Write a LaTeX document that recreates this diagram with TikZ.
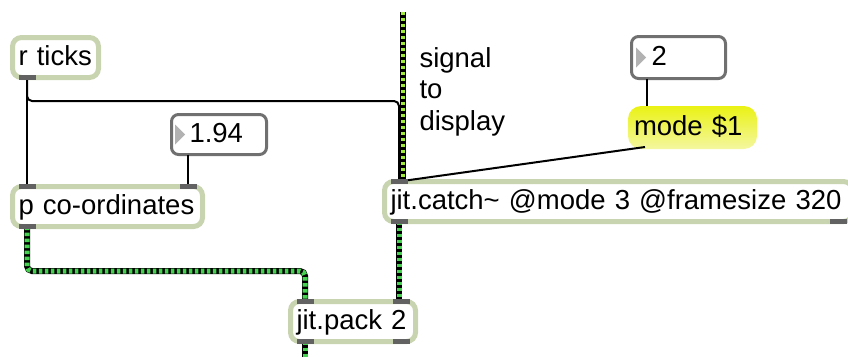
\documentclass[tikz,border=0pt]{standalone}
\usepackage{fontspec}
\setmainfont{Liberation Sans}
\usetikzlibrary{calc}

\definecolor{objedge}{RGB}{200,212,176}
\definecolor{portgray}{RGB}{98,98,98}
\definecolor{numedge}{RGB}{112,112,112}
\definecolor{trigray}{RGB}{178,178,178}
\definecolor{sigcol}{RGB}{160,235,60}
\definecolor{jitcol}{RGB}{70,210,80}
\definecolor{msgtop}{RGB}{234,242,20}
\definecolor{msgbot}{RGB}{244,247,160}

% dark inlet/outlet tab centred on a box edge
\newcommand\porttab[1]{\fill[portgray] ($(#1)+(-8.5,-2.5)$) rectangle ++(17,5);}

\begin{document}
\begin{tikzpicture}[x=1pt,y=-1pt,
  txt/.style={font=\fontsize{27.5}{31.5}\selectfont},
  box/.style={txt, anchor=north west, inner xsep=6pt, inner ysep=7pt,
    text height=21pt, text depth=5pt, align=left, outer sep=0pt},
  obj/.style={box, draw=objedge, line width=5pt, fill=white, rounded corners=9pt},
  num/.style={box, draw=numedge, line width=3pt, fill=white, rounded corners=7pt},
  msg/.style={box, rounded corners=13pt, top color=msgtop, bottom color=msgbot,
    text height=20pt, inner ysep=9pt},
  cord/.style={line width=2pt, black},
  sigcord/.style={line width=6pt, black,
    postaction={draw=sigcol, line width=4.5pt, dash pattern=on 3pt off 3pt}},
  jitcord/.style={line width=6pt, black, rounded corners=5pt,
    postaction={draw=jitcol, line width=5pt, dash pattern=on 3.5pt off 2.5pt}},
]
\useasboundingbox (0,0) rectangle (848,356);

% boxes
\node[obj, text width=74pt] (rticks) at (12.5,37.5) {r ticks};
\node[obj, text width=178pt] (pcoord) at (12.5,186.5) {p co-ordinates};
\node[obj, text width=456pt] (catch) at (384.5,181.5) {jit.catch\textasciitilde{} @mode 3 @framesize 320};
\node[obj, text width=113pt] (pack) at (290.5,301.5) {jit.pack 2};
\node[num, text width=83pt] (numA) at (171.5,114.5) {\hspace*{12pt}1.94};
\node[num, text width=82pt, inner ysep=8pt] (numB) at (631.5,36.5) {\hspace*{14pt}2};
\node[msg, text width=117pt] (mode) at (628,106) {mode \$1};
\node[txt, anchor=base west, align=left] (sigtext) at (416,130) {signal\\to\\display};

% number box arrows
\fill[trigray] ($(numA.west)+(3.5,-10)$) -- ++(10,10) -- ++(-10,10) -- cycle;
\fill[trigray] ($(numB.west)+(4.5,-10)$) -- ++(10,10) -- ++(-10,10) -- cycle;

% inlets and outlets
\coordinate (rticks-out) at ($(rticks.south west)+(14.5,0)$);
\coordinate (pc-in1) at ($(pcoord.north west)+(14.5,0)$);
\coordinate (pc-in2) at ($(pcoord.north east)+(-14.5,0)$);
\coordinate (pc-out) at ($(pcoord.south west)+(14.5,0)$);
\coordinate (catch-in) at ($(catch.north west)+(14.5,0)$);
\coordinate (catch-out) at ($(catch.south west)+(14.5,0)$);
\coordinate (catch-out2) at ($(catch.south east)+(-14.5,0)$);
\coordinate (pack-in1) at ($(pack.north west)+(14.5,0)$);
\coordinate (pack-in2) at ($(pack.north east)+(-14.5,0)$);
\coordinate (pack-out1) at ($(pack.south west)+(14.5,0)$);
\coordinate (pack-out2) at ($(pack.south east)+(-14.5,0)$);
\coordinate (numA-out) at ($(numA.south west)+(16.5,0)$);
\coordinate (numB-out) at ($(numB.south west)+(15.5,0)$);
\coordinate (mode-in) at ($(mode.north west)+(19,0)$);
\coordinate (mode-out) at ($(mode.south west)+(17,-2)$);

% routing helpers
\coordinate (tickrow) at (200,101);
\coordinate (jitrow) at (150,271);
\coordinate (sigtop) at (403,12);
\coordinate (packdown) at (0,362);

% patch cords
\draw[cord] (rticks-out) -- (pc-in1);
\draw[cord, rounded corners=5pt] (rticks-out) |- (tickrow) -| (catch-in);
\draw[cord] (numA-out) -- (pc-in2);
\draw[cord] (numB-out) -- (mode-in);
\draw[cord] (mode-out) -- (catch-in);
\draw[sigcord] (sigtop) -- (sigtop |- catch-in);
\draw[jitcord] (catch-out) -- (catch-out |- pack-in2);
\draw[jitcord] (pc-out) |- (jitrow) -| (pack-in1);
\draw[jitcord] (pack-out1) -- (pack-out1 |- packdown);

\porttab{rticks-out}
\porttab{pc-in1}
\porttab{pc-in2}
\porttab{pc-out}
\porttab{catch-in}
\porttab{catch-out}
\porttab{catch-out2}
\porttab{pack-in1}
\porttab{pack-in2}
\porttab{pack-out1}
\porttab{pack-out2}
\end{tikzpicture}
\end{document}
